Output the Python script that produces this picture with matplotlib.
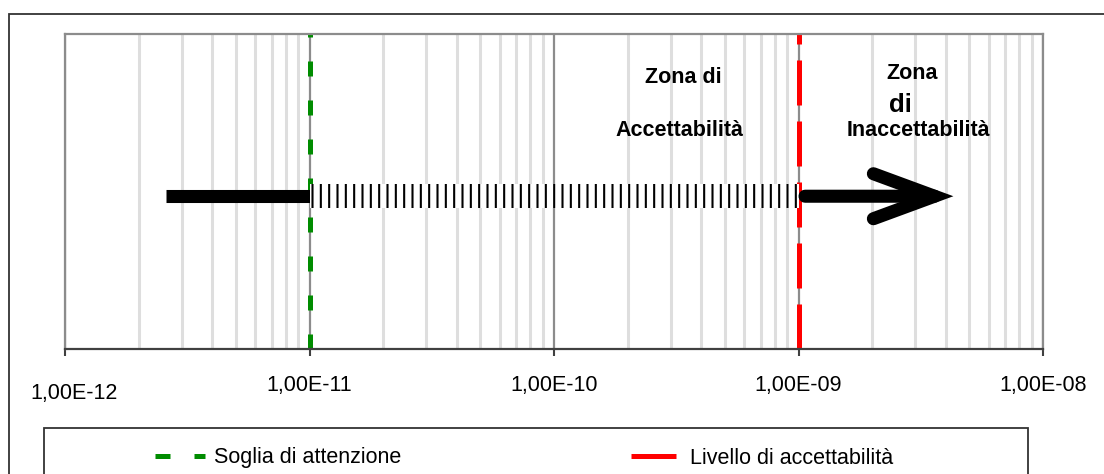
import matplotlib
matplotlib.use('Agg')
import matplotlib.pyplot as plt
import numpy as np
from matplotlib.patches import FancyArrowPatch, Rectangle
from matplotlib.ticker import LogLocator, NullFormatter

plt.rcParams['font.family'] = ['Liberation Sans', 'DejaVu Sans']
plt.rcParams['hatch.linewidth'] = 1.5

# Scale range and decade labels
X_MIN, X_MAX = 1e-12, 1e-8
decades = [1e-12, 1e-11, 1e-10, 1e-9, 1e-8]
decade_labels = ['1,00E-12', '1,00E-11', '1,00E-10', '1,00E-09', '1,00E-08']

# Threshold levels
soglia_attenzione = 1e-11
livello_accettabilita = 1e-9

# Arrow pieces along the scale: solid, striped, solid with head
tratto_pieno = [2.6e-12, 1e-11]
tratto_rigato = [1e-11, 1e-9]
freccia = [1e-9, 4.3e-9]
ARROW_Y = 0.485

FS = 15.5
W, H = 1104, 474

fig = plt.figure(figsize=(W / 100, H / 100), dpi=100)
ax = fig.add_axes([65 / W, 125 / H, 978 / W, 315 / H])
ax.set_xscale('log')
ax.set_xlim(X_MIN, X_MAX)
ax.set_ylim(0, 1)
ax.set_xticks(decades, [''] + decade_labels[1:])
ax.xaxis.set_minor_locator(LogLocator(base=10, subs=np.arange(2, 10)))
ax.xaxis.set_minor_formatter(NullFormatter())
ax.set_yticks([])

ax.set_axisbelow(True)
ax.grid(which='minor', axis='x', color='#dedede', lw=2.2)
ax.grid(which='major', axis='x', color='#8c8c8c', lw=1.6)
ax.tick_params(axis='x', which='major', length=5, width=1.5, color='#404040',
               pad=14, labelsize=FS)
ax.tick_params(axis='x', which='minor', length=0)
for side in ['left', 'top', 'right']:
    ax.spines[side].set_color('#8c8c8c')
    ax.spines[side].set_linewidth(1.6)
ax.spines['bottom'].set_color('#404040')
ax.spines['bottom'].set_linewidth(1.6)

# first decade label sits a little lower and to the right
ax.annotate(decade_labels[0], xy=(decades[0], 0), xycoords=('data', 'axes fraction'),
            xytext=(9, -44), textcoords='offset pixels', ha='center', va='center',
            fontsize=FS)

# threshold lines
ax.axvline(soglia_attenzione, color='#008c00', lw=3.6, linestyle=(0, (3, 4.8)),
           label='Soglia di attenzione', zorder=2)
ax.axvline(livello_accettabilita, color='#ff0000', lw=3.6, linestyle=(0, (9, 3.2)),
           label='Livello di accettabilità', zorder=2)

# arrow
ax.plot(tratto_pieno, [ARROW_Y, ARROW_Y], color='black', lw=9.4,
        solid_capstyle='butt', zorder=4)
ax.barh(ARROW_Y, tratto_rigato[1] - tratto_rigato[0], left=tratto_rigato[0],
        height=0.076, color='white', edgecolor='black', linewidth=0, hatch='||',
        zorder=4)
arrow = FancyArrowPatch((freccia[0], ARROW_Y), (freccia[1], ARROW_Y),
                        arrowstyle='->,head_length=44,head_width=16.2',
                        mutation_scale=1, lw=9.4, color='black',
                        capstyle='round', joinstyle='miter',
                        shrinkA=4.7, shrinkB=0, zorder=5)
ax.add_patch(arrow)

# zone labels
xt = ax.get_xaxis_transform()
ax.text(3.37e-10, 0.863, 'Zona di', transform=xt, ha='center', va='center',
        fontsize=FS, fontweight='bold')
ax.text(3.25e-10, 0.695, 'Accettabilità', transform=xt, ha='center', va='center',
        fontsize=FS, fontweight='bold')
ax.text(2.91e-9, 0.876, 'Zona', transform=xt, ha='center', va='center',
        fontsize=FS, fontweight='bold')
ax.text(2.62e-9, 0.775, 'di', transform=xt, ha='center', va='center',
        fontsize=18.5, fontweight='bold')
ax.text(3.08e-9, 0.695, 'Inaccettabilità', transform=xt, ha='center', va='center',
        fontsize=FS, fontweight='bold')

# legend and frames
handles, labels = ax.get_legend_handles_labels()
fig.legend(handles, labels, loc='center left', bbox_to_anchor=(155 / W, 1 - 458 / H),
           ncol=2, frameon=False, fontsize=FS, handlelength=2.3,
           handletextpad=0.42, columnspacing=10.7, borderpad=0, borderaxespad=0)
fig.add_artist(Rectangle((44 / W, -0.2), 984 / W, (H - 428) / H + 0.2,
                         transform=fig.transFigure, fill=False,
                         ec='#333333', lw=1.3))
fig.add_artist(Rectangle((9 / W, -0.2), 1.0, (H - 14) / H + 0.2,
                         transform=fig.transFigure, fill=False,
                         ec='#333333', lw=1.3))

fig.savefig('out.png', dpi=100)
